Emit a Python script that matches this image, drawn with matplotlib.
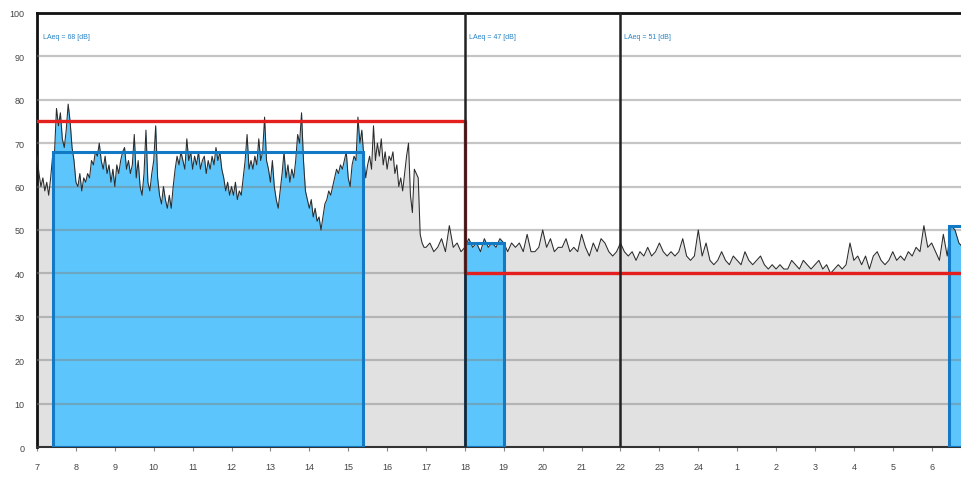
#!/usr/bin/env python3
# -*- coding: utf-8 -*-

import numpy as np
import matplotlib
matplotlib.use("Agg")
import matplotlib.pyplot as plt
from matplotlib.patches import Rectangle

plt.rcParams['font.family'] = ['Liberation Sans', 'DejaVu Sans']

# sound level, 3-min samples from 7:00 to 16:55 (dB)
day_levels = [
    67, 63, 60, 62, 59, 61, 58, 62, 67, 68, 78, 74, 77, 71, 69, 73, 79, 75, 69, 66,   # 7h
    61, 60, 63, 59, 62, 61, 63, 62, 66, 65, 68, 67, 70, 66, 64, 67, 63, 65, 61, 64,   # 8h
    60, 65, 63, 66, 68, 69, 64, 66, 63, 65, 72, 62, 66, 60, 58, 63, 73, 61, 59, 63,   # 9h
    66, 74, 62, 58, 56, 60, 57, 55, 58, 55, 60, 64, 67, 65, 68, 66, 64, 71, 66, 68,   # 10h
    64, 67, 65, 68, 64, 66, 67, 63, 66, 64, 67, 65, 69, 66, 68, 64, 62, 59, 61, 58,   # 11h
    60, 58, 61, 57, 59, 58, 62, 66, 72, 64, 66, 64, 67, 65, 71, 66, 68, 76, 66, 64,   # 12h
    61, 66, 60, 57, 55, 59, 63, 68, 62, 65, 61, 64, 62, 66, 72, 70, 77, 66, 59, 57,   # 13h
    55, 57, 53, 55, 52, 53, 50, 53, 56, 57, 59, 58, 60, 62, 64, 63, 65, 64, 66, 68,   # 14h
    62, 60, 65, 67, 66, 76, 70, 73, 67, 62, 65, 67, 64, 74, 66, 70, 67, 71, 65, 68,   # 15h
    64, 67, 66, 68, 63, 65, 60, 62, 59, 63, 67, 70, 58, 54, 64, 63, 62, 49, 47, 46,   # 16h
]

# sound level, 6-min samples from 17:00 to 6:48 (dB)
night_levels = [
    46, 47, 45, 46, 48, 45, 51, 46, 47, 45,   # 17h
    46, 48, 46, 47, 45, 48, 46, 47, 46, 48,   # 18h
    47, 45, 47, 46, 47, 45, 49, 45, 45, 46,   # 19h
    50, 46, 48, 45, 46, 46, 48, 45, 46, 45,   # 20h
    49, 46, 44, 47, 45, 48, 47, 45, 44, 45,   # 21h
    47, 45, 44, 45, 43, 45, 44, 46, 44, 45,   # 22h
    47, 45, 44, 45, 44, 45, 48, 44, 43, 44,   # 23h
    50, 44, 47, 43, 42, 43, 45, 43, 42, 44,   # 0h
    43, 42, 45, 43, 42, 43, 44, 42, 41, 42,   # 1h
    41, 42, 41, 41, 43, 42, 41, 43, 42, 41,   # 2h
    42, 43, 41, 42, 40, 41, 42, 41, 42, 47,   # 3h
    43, 44, 42, 44, 41, 44, 45, 43, 42, 43,   # 4h
    45, 43, 44, 43, 45, 44, 46, 45, 51, 46,   # 5h
    47, 45, 43, 49, 44, 51, 50, 47, 46,       # 6h
]

# measurement periods: start, end (hours), LAeq
period_start = [7.41, 18.0, 30.44]
period_end = [15.38, 19.0, 30.9]
period_laeq = [68, 47, 51]
label_x = [7.15, 18.1, 22.1]
label_laeq = [68, 47, 51]

# limit values
limit_x = [7.0, 18.0, 18.0, 30.9]
limit_y = [75, 75, 40, 40]

tick_hours = list(range(7, 31))
tick_labels = [str(h) for h in range(7, 25)] + [str(h) for h in range(1, 7)]

t_day = 7.0 + 0.05 * np.arange(len(day_levels))
t_night = 17.0 + 0.1 * np.arange(len(night_levels))
hours = np.concatenate([t_day, t_night])
levels = np.concatenate([day_levels, night_levels]).astype(float)

fig = plt.figure(figsize=(9.62, 4.81), dpi=100)
ax = fig.add_axes([0.0385, 0.0686, 0.9615, 0.9024])
ax.set_xlim(7.0, 30.78)
ax.set_ylim(0, 100)

# grey area under the whole curve
ax.fill_between(hours, levels, 0, color="#e1e1e1", lw=0, zorder=1)

# blue area under curve inside measurement periods
for s, e, l in zip(period_start, period_end, period_laeq):
    xs = np.concatenate([[s], hours[(hours > s) & (hours < e)], [e]])
    ys = np.interp(xs, hours, levels)
    ax.fill_between(xs, ys, 0, color="#5cc6fc", lw=0, zorder=2)
    ax.add_patch(Rectangle((s, 0), e - s, l, fill=False, edgecolor="#1279c4",
                           lw=2.2, zorder=5))

for y in range(10, 100, 10):
    ax.axhline(y, color="#7f7f7f", alpha=0.45, lw=1.6, zorder=3)

ax.plot(hours, levels, color="#2b2b2b", lw=0.75, zorder=4)

ax.plot(limit_x, limit_y, color="#e3201e", lw=2.4, zorder=6)
for xv in [18.0, 22.0]:
    ax.axvline(xv, color="#222222", lw=1.8, zorder=7)

for x, l in zip(label_x, label_laeq):
    ax.text(x, 94.6, "LAeq = %d [dB]" % l, color="#2582c4", fontsize=5,
            va="center", ha="left", zorder=8)

ax.set_yticks(range(0, 101, 10))
ax.set_xticks(tick_hours)
ax.set_xticklabels(tick_labels)
ax.tick_params(axis="both", labelsize=6.5, colors="#444444", length=0, pad=9)
ax.tick_params(axis="x", length=3, pad=8, color="#888888")

for side in ["left", "top"]:
    ax.spines[side].set_linewidth(2)
    ax.spines[side].set_color("#111111")
ax.spines["bottom"].set_linewidth(1.5)
ax.spines["bottom"].set_color("#333333")
ax.spines["right"].set_visible(False)

fig.savefig("out.png", dpi=100)
